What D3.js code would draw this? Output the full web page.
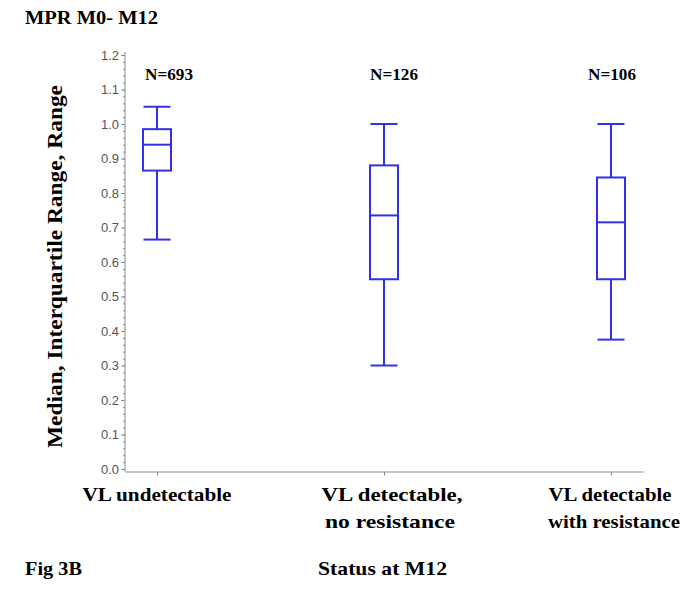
<!DOCTYPE html>
<html><head><meta charset="utf-8">
<script src="https://cdn.jsdelivr.net/npm/d3@7"></script>
<style>
body{margin:0;background:#fff;}
svg{display:block;}
</style></head>
<body>
<svg id="c" width="689" height="591"></svg>
<script>
const categories = ["VL undetectable", "VL detectable, no resistance", "VL detectable with resistance"];
const categoryLines = [["VL undetectable"], ["VL detectable,", "no resistance"], ["VL detectable", "with resistance"]];
const nLabels = ["N=693", "N=126", "N=106"];
const whiskerMax = [1.05, 1.0, 1.0];
const q3 = [0.985, 0.88, 0.845];
const median = [0.94, 0.735, 0.715];
const q1 = [0.865, 0.55, 0.55];
const whiskerMin = [0.665, 0.30, 0.375];
const yTicks = [0.0,0.1,0.2,0.3,0.4,0.5,0.6,0.7,0.8,0.9,1.0,1.1,1.2];

const svg = d3.select("#c");
const blue = "#3030e8";
const axisCol = "#8a8a8a";

const x = d3.scalePoint().domain(categories).range([125, 643]).padding(0.141);
const y = d3.scaleLinear().domain([0, 1.2]).range([469, 55]);

// minor ticks
const minor = d3.range(0, 1.2001, 0.02);
svg.append("g").attr("transform","translate(125,0)")
  .call(d3.axisLeft(y).tickValues(minor).tickSize(2).tickFormat(""))
  .call(g=>g.select(".domain").remove())
  .call(g=>g.selectAll("line").attr("stroke",axisCol));

const yAxis = svg.append("g").attr("transform","translate(125,0)")
  .call(d3.axisLeft(y).tickValues(yTicks).tickSize(4).tickSizeOuter(0).tickFormat(d3.format(".1f")));
yAxis.select(".domain").attr("stroke",axisCol).attr("d","M0,52V471.5");
yAxis.selectAll("line").attr("stroke",axisCol);
yAxis.selectAll("text").attr("fill","#555").attr("font-family","Liberation Sans, Arial, sans-serif").attr("font-size",13).attr("x",-6);

const xAxis = svg.append("g").attr("transform","translate(0,471.5)")
  .call(d3.axisBottom(x).tickSize(4).tickSizeOuter(0).tickFormat(""));
xAxis.select(".domain").attr("stroke",axisCol).attr("stroke-width",1.2);
xAxis.selectAll("line").attr("stroke",axisCol);

// boxes
const bw = 28, cw = 27;
const g = svg.append("g").attr("stroke",blue).attr("stroke-width",2).attr("fill","none");
categories.forEach((c,i)=>{
  const cx = x(c);
  g.append("line").attr("x1",cx).attr("x2",cx).attr("y1",y(whiskerMax[i])).attr("y2",y(q3[i]));
  g.append("line").attr("x1",cx).attr("x2",cx).attr("y1",y(q1[i])).attr("y2",y(whiskerMin[i]));
  g.append("line").attr("x1",cx-cw/2).attr("x2",cx+cw/2).attr("y1",y(whiskerMax[i])).attr("y2",y(whiskerMax[i]));
  g.append("line").attr("x1",cx-cw/2).attr("x2",cx+cw/2).attr("y1",y(whiskerMin[i])).attr("y2",y(whiskerMin[i]));
  g.append("rect").attr("x",cx-bw/2).attr("width",bw).attr("y",y(q3[i])).attr("height",y(q1[i])-y(q3[i]));
  g.append("line").attr("x1",cx-bw/2).attr("x2",cx+bw/2).attr("y1",y(median[i])).attr("y2",y(median[i]));
});

const serif = "Liberation Serif, Times New Roman, serif";
const nOffsets = [12, 10, 1];
const lineOffsets = [[0],[8,6],[-1,3]];
const lineWidths = [[149],[141,130],[123,132]];
categories.forEach((c,i)=>{
  svg.append("text").attr("x",x(c)+nOffsets[i]).attr("y",80).attr("text-anchor","middle")
    .attr("font-family",serif).attr("font-weight","bold").attr("font-size",17)
    .attr("textLength",48).attr("lengthAdjust","spacingAndGlyphs").text(nLabels[i]);
  categoryLines[i].forEach((t,j)=>{
    svg.append("text").attr("x",x(c)+lineOffsets[i][j]).attr("y",501+j*27).attr("text-anchor","middle")
      .attr("font-family",serif).attr("font-weight","bold").attr("font-size",19)
      .attr("textLength",lineWidths[i][j]).attr("lengthAdjust","spacingAndGlyphs").text(t);
  });
});

svg.append("text").attr("x",25).attr("y",24).attr("font-family",serif).attr("font-weight","bold")
  .attr("font-size",18).attr("textLength",133).attr("lengthAdjust","spacingAndGlyphs").text("MPR M0- M12");
svg.append("text").attr("transform","translate(62,266.5) rotate(-90)").attr("text-anchor","middle")
  .attr("font-family",serif).attr("font-weight","bold").attr("font-size",22)
  .attr("textLength",363).attr("lengthAdjust","spacingAndGlyphs").text("Median, Interquartile Range, Range");
svg.append("text").attr("x",25).attr("y",575).attr("font-family",serif).attr("font-weight","bold")
  .attr("font-size",19).attr("textLength",57).attr("lengthAdjust","spacingAndGlyphs").text("Fig 3B");
svg.append("text").attr("x",382.5).attr("y",575).attr("text-anchor","middle").attr("font-family",serif).attr("font-weight","bold")
  .attr("font-size",19).attr("textLength",129).attr("lengthAdjust","spacingAndGlyphs").text("Status at M12");
</script>
</body></html>
